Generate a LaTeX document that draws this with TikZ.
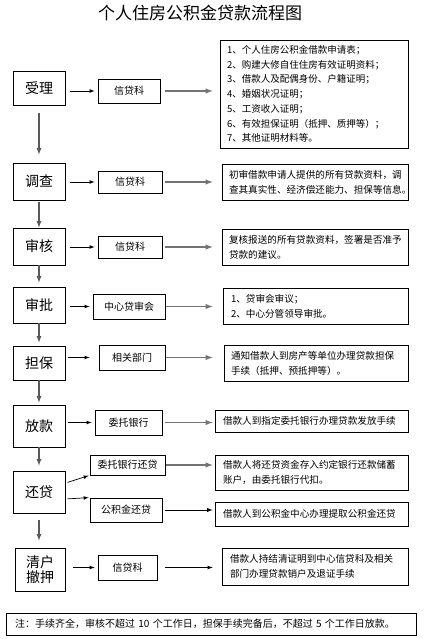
\documentclass[tikz,border=0pt]{standalone}
\usepackage{fontspec}
\setmainfont{Noto Sans CJK SC}
\usepackage{tikz}
\usetikzlibrary{arrows,positioning,calc}

\begin{document}
\begin{tikzpicture}[
    x=1pt, y=-1pt,
    stage/.style = {rectangle, draw, line width=0.9pt, minimum width=52pt, align=center, font=\fontsize{14}{18}\selectfont, inner sep=1pt},
    dept/.style = {rectangle, draw, line width=0.8pt, minimum height=24pt, align=center, font=\fontsize{10}{12}\selectfont, inner sep=1pt},
    info/.style = {rectangle, draw, line width=0.8pt, align=left, text width=#1, font=\fontsize{9.6}{15}\selectfont, inner xsep=8pt, inner ysep=2pt},
    arrow/.style = {-latex, line width=0.7pt},
    longarrow/.style = {-latex, line width=1.4pt, black!55},
    down/.style = {-latex, line width=1.2pt, black!65}
]
    \useasboundingbox (0,0) rectangle (429,639);
    \node[font=\fontsize{17}{20}\selectfont] (title) at (200,13) {个人住房公积金贷款流程图};

    % stages
    \node[stage, minimum height=34pt] (shouli) at (39,88) {受理};
    \node[stage, minimum height=37pt] (diaocha) at (39,181.5) {调查};
    \node[stage, minimum height=37pt] (shenhe) at (39,246.5) {审核};
    \node[stage, minimum height=36pt] (shenpi) at (39,305) {审批};
    \node[stage, minimum height=34pt] (danbao) at (39,363) {担保};
    \node[stage, minimum height=42pt] (fangkuan) at (39,426) {放款};
    \node[stage, minimum height=42pt] (huandai) at (39,492) {还贷};
    \node[stage, minimum height=43pt, minimum width=50pt] (qinghu) at (40,569.5) {清户\\[-3pt]撤押};

    % departments
    \node[dept, minimum width=62pt] (xin1) at (129,91) {信贷科};
    \node[dept, minimum width=64pt, minimum height=22pt] (xin2) at (130,182) {信贷科};
    \node[dept, minimum width=64pt, minimum height=22pt] (xin3) at (130,247) {信贷科};
    \node[dept, minimum width=72pt, minimum height=25pt] (zhongxin) at (129,306.5) {中心贷审会};
    \node[dept, minimum width=66pt, minimum height=25pt] (xiangguan) at (132,357.5) {相关部门};
    \node[dept, minimum width=67pt, minimum height=25pt] (weituo) at (128.5,422.5) {委托银行};
    \node[dept, minimum width=75pt, minimum height=20pt] (weituohuan) at (127.5,465) {委托银行还贷};
    \node[dept, minimum width=72pt] (gongjijin) at (126,510) {公积金还贷};
    \node[dept, minimum width=59pt, minimum height=25pt] (xin4) at (127.5,567.5) {信贷科};

    % details
    \node[info=174pt, inner xsep=7pt, minimum height=108pt, font=\fontsize{9.5}{14.7}\selectfont] (cailiao) at (314,94) {1、个人住房公积金借款申请表；\\2、购建大修自住住房有效证明资料；\\3、借款人及配偶身份、户籍证明；\\4、婚姻状况证明；\\5、工资收入证明；\\6、有效担保证明（抵押、质押等）；\\7、其他证明材料等。};
    \node[info=172pt, inner xsep=7pt, minimum height=36pt] (chushen) at (315,182) {初审借款申请人提供的所有贷款资料，调\\查其真实性、经济偿还能力、担保等信息。};
    \node[info=172pt, inner xsep=7pt, minimum height=36pt] (fuhe) at (315,247) {复核报送的所有贷款资料，签署是否准予\\贷款的建议。};
    \node[info=169pt, minimum height=36pt] (shenyi) at (315.5,306) {1、贷审会审议；\\2、中心分管领导审批。};
    \node[info=170pt, inner xsep=7pt, minimum height=36pt] (tongzhi) at (316,363) {通知借款人到房产等单位办理贷款担保\\手续（抵押、预抵押等）。};
    \node[info=177pt, minimum height=22pt] (fafang) at (311.5,421) {借款人到指定委托银行办理贷款发放手续};
    \node[info=177pt, minimum height=35pt] (cunru) at (311.5,472.5) {借款人将还贷资金存入约定银行还款储蓄\\账户，由委托银行代扣。};
    \node[info=177pt, minimum height=24pt] (tiqu) at (311.5,514) {借款人到公积金中心办理提取公积金还贷};
    \node[info=170pt, minimum height=37pt] (jieqing) at (315,566.5) {借款人持结清证明到中心信贷科及相关\\部门办理贷款销户及退证手续};

    \node[info=392pt, inner xsep=9pt, minimum height=22pt, font=\fontsize{10}{12}\selectfont] (zhu) at (211,624) {注：手续齐全，审核不超过 10 个工作日，担保手续完备后，不超过 5 个工作日放款。};

    % stage to department
    \draw[arrow, shorten <=5pt, shorten >=3pt] (shouli.east |- xin1) -- (xin1);
    \draw[arrow, shorten <=5pt, shorten >=3pt] (diaocha.east |- xin2) -- (xin2);
    \draw[arrow, shorten <=5pt, shorten >=3pt] (shenhe.east |- xin3) -- (xin3);
    \draw[arrow, shorten <=5pt, shorten >=3pt] (shenpi.east |- zhongxin) -- (zhongxin);
    \draw[arrow, shorten <=3pt, shorten >=9pt] (danbao.east |- xiangguan) -- (xiangguan);
    \draw[arrow, shorten <=3pt, shorten >=3pt] (fangkuan.east |- weituo) -- (weituo);
    \draw[arrow, shorten <=2pt, shorten >=1pt] (huandai.east) ++(0,-9) -- (weituohuan.south west);
    \draw[arrow, shorten <=2pt, shorten >=1pt] (huandai.east) ++(0,7) -- (gongjijin.north west);
    \draw[arrow, shorten <=8pt, shorten >=3pt] (qinghu.east |- xin4) -- (xin4);

    % department to details
    \draw[longarrow, shorten <=5pt, shorten >=7pt] (xin1) -- (xin1 -| cailiao.west);
    \draw[longarrow, shorten <=3pt, shorten >=9pt] (xin2) -- (xin2 -| chushen.west);
    \draw[longarrow, shorten <=3pt, shorten >=9pt] (xin3) -- (xin3 -| fuhe.west);
    \draw[longarrow, shorten <=1pt, shorten >=10pt] (zhongxin) -- (zhongxin -| shenyi.west);
    \draw[longarrow, shorten <=1pt, shorten >=11pt] (xiangguan) -- (xiangguan -| tongzhi.west);
    \draw[longarrow, shorten <=3pt, shorten >=2pt] (weituo) -- (weituo -| fafang.west);
    \draw[longarrow, shorten <=1pt, shorten >=2pt] (weituohuan) -- (weituohuan -| cunru.west);
    \draw[arrow, line width=0.9pt, shorten <=3pt, shorten >=2pt] (gongjijin) -- (gongjijin -| tiqu.west);
    \draw[arrow, shorten <=8pt, shorten >=9pt] (xin4) -- (xin4 -| jieqing.west);

    % main flow
    \draw[down, shorten <=8pt, shorten >=8pt] (shouli) -- (diaocha);
    \draw[down, shorten <=2pt, shorten >=0pt] (diaocha) -- (shenhe);
    \draw[down, shorten <=0pt, shorten >=4pt] (shenhe) -- (shenpi);
    \draw[down, shorten <=0pt, shorten >=3pt] (shenpi) -- (danbao);
    \draw[down, shorten <=0pt, shorten >=2pt] (danbao) -- (fangkuan);
    \draw[down, shorten <=0pt, shorten >=5pt] (fangkuan) -- (huandai);
    \draw[down, shorten <=7pt, shorten >=7pt] (huandai.south) -- (qinghu.north -| huandai.south);
\end{tikzpicture}
\end{document}
